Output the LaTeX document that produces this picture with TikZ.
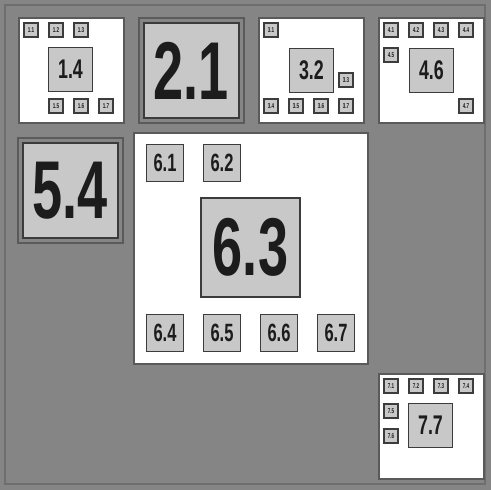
\documentclass[tikz,border=0pt]{standalone}
\usepackage{fontspec}
\usepackage{tikz}
\usetikzlibrary{positioning}
\newfontfamily\condfont{Liberation Sans}[FakeStretch=0.66]
\definecolor{bgrey}{HTML}{858585}
\definecolor{edgegrey}{HTML}{6E6E6E}
\definecolor{cellline}{HTML}{5A5A5A}
\definecolor{boxfill}{HTML}{C8C8C8}
\definecolor{boxline}{HTML}{3C3C3C}
\definecolor{inkgrey}{HTML}{1C1C1C}

\begin{document}
\begin{tikzpicture}[x=1pt,y=-1pt,
  cell/.style={draw=cellline,line width=1.8pt,fill=white,inner sep=0,minimum size=105pt},
  fullcell/.style={cell,fill=bgrey},
  tinybox/.style={draw=boxline,line width=1.6pt,fill=boxfill,inner sep=0,minimum size=14pt,
    text=inkgrey,font=\condfont\bfseries\fontsize{7}{7}\selectfont},
  midbox/.style={draw=boxline,line width=1.8pt,fill=boxfill,inner sep=0,minimum size=44pt,
    text=inkgrey,font=\condfont\bfseries\fontsize{27}{27}\selectfont},
  sixbox/.style={draw=boxline,line width=1.8pt,fill=boxfill,inner sep=0,minimum size=37pt,
    text=inkgrey,font=\condfont\bfseries\fontsize{25}{25}\selectfont},
  bigbox/.style={draw=boxline,line width=2pt,fill=boxfill,inner sep=0,
    text=inkgrey,font=\condfont\bfseries\fontsize{82}{82}\selectfont}]
\useasboundingbox (0,0) rectangle (491,490);
\fill[bgrey] (0,0) rectangle (491,490);
\draw[edgegrey,line width=2.5pt] (5,5) rectangle (485,484);

% first row
\node[cell,anchor=north west] (cone) at (18,17) {};
\foreach \n/\x/\y in {1/31/30,2/56/30,3/81/30,5/56/106,6/81/106,7/106/106}
  \node[tinybox] (b1\n) at (\x,\y) {1.\n};
\node[midbox] (b14) at (70.5,69.5) {1.4};

\node[fullcell,anchor=north west] (ctwo) at (138,17) {};
\node[bigbox,minimum size=95pt] (b21) at (ctwo.center) {2.1};

\node[cell,anchor=north west] (cthree) at (258,17) {};
\foreach \n/\x/\y in {1/271/30,3/346/80,4/271/106,5/296/106,6/321/106,7/346/106}
  \node[tinybox] (b3\n) at (\x,\y) {3.\n};
\node[midbox] (b32) at (cthree.center) {3.2};

\node[cell,anchor=north west] (cfour) at (378,17) {};
\foreach \n/\x/\y in {1/391/30,2/416/30,3/441/30,4/466/30,5/391/55,7/466/106}
  \node[tinybox] (b4\n) at (\x,\y) {4.\n};
\node[midbox] (b46) at (cfour.center) {4.6};

% second row
\node[fullcell,anchor=north west] (cfive) at (17,137) {};
\node[bigbox,minimum size=95pt] (b54) at (cfive.center) {5.4};

\node[cell,anchor=north west,minimum width=234pt,minimum height=231pt] (csix) at (133,132) {};
\foreach \n/\x/\y in {1/165/163,2/222/163,4/165/333,5/222/333,6/279/333,7/336/333}
  \node[sixbox] (b6\n) at (\x,\y) {6.\n};
\node[bigbox,minimum size=99pt] (b63) at (250.5,247) {6.3};

% last row
\node[cell,anchor=north west] (cseven) at (378,373) {};
\foreach \n/\x/\y in {1/391/386,2/416/386,3/441/386,4/466/386,5/391/411,6/391/436}
  \node[tinybox] (b7\n) at (\x,\y) {7.\n};
\node[midbox] (b77) at (430.5,425.5) {7.7};
\end{tikzpicture}
\end{document}
